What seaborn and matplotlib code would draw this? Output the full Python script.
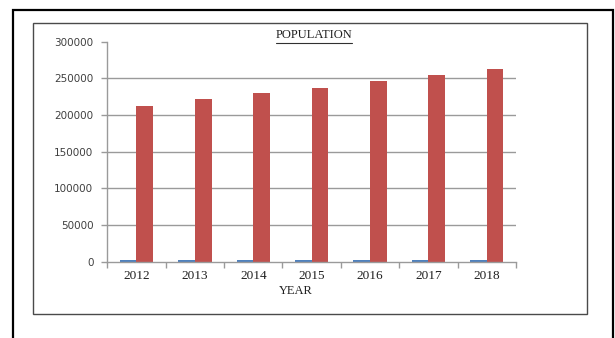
import matplotlib
matplotlib.use("Agg")
import matplotlib.pyplot as plt
from matplotlib.lines import Line2D
from matplotlib.patches import Rectangle
import numpy as np
import pandas as pd
import seaborn as sns

# Chart data
years = ["2012", "2013", "2014", "2015", "2016", "2017", "2018"]
year_values = [2012, 2013, 2014, 2015, 2016, 2017, 2018]
population = [212000, 221000, 230000, 237000, 246000, 255000, 263000]
y_ticks = [0, 50000, 100000, 150000, 200000, 250000, 300000]

df = pd.DataFrame({
    "year": years * 2,
    "series": ["YEAR"] * len(years) + ["POPULATION"] * len(years),
    "value": year_values + population,
})

sns.set_theme(style="white")
plt.rcParams["font.family"] = ["DejaVu Sans"]

W, H = 615, 338
fig = plt.figure(figsize=(W / 100, H / 100), dpi=100)
fig.patch.set_facecolor("white")

def fx(px):
    return px / W

def fy(py):
    return 1 - py / H

ax = fig.add_axes([fx(107.3), fy(261.5), fx(516) - fx(107.3), fy(41.5) - fy(261.5)])

sns.barplot(
    data=df, x="year", y="value", hue="series",
    palette=["#4F81BD", "#C0504D"], saturation=1,
    width=0.57, gap=0, linewidth=0, legend=False, ax=ax,
)

grid_grey = "#9a9a9a"
ax.set_ylim(0, 300000)
ax.set_xlim(-0.5, len(years) - 0.5)
ax.set_yticks(y_ticks)
ax.set_yticklabels([str(v) for v in y_ticks], fontsize=7.5, color="#404040")
ax.yaxis.grid(True, color=grid_grey, linewidth=1.0)
ax.set_axisbelow(True)
ax.get_ygridlines()[-1].set_visible(False)
ax.get_ygridlines()[0].set_visible(False)

for side in ["top", "right"]:
    ax.spines[side].set_visible(False)
for side in ["left", "bottom"]:
    ax.spines[side].set_color(grid_grey)
    ax.spines[side].set_linewidth(1.0)

ax.tick_params(axis="y", direction="out", length=4, width=1.0,
               color=grid_grey, pad=6, left=True)
ax.set_xticks(range(len(years)))
ax.set_xticklabels(years, fontsize=9.5, family="Liberation Serif", color="#202020")
ax.set_xticks(np.arange(-0.5, len(years), 1.0), minor=True)
ax.tick_params(axis="x", which="major", length=0, pad=6)
ax.tick_params(axis="x", which="minor", direction="out", length=4,
               width=1.0, color=grid_grey, bottom=True)

ax.set_xlabel("")
ax.set_ylabel("")

# Axis title and chart title
fig.text(fx(296), fy(291), "YEAR", ha="center", va="center",
         fontsize=9, family="Liberation Serif", color="#202020")
title = fig.text(fx(314), fy(35), "POPULATION", ha="center", va="center",
                 fontsize=9, family="Liberation Serif", color="#202020")
fig.canvas.draw()
bb = title.get_window_extent(fig.canvas.get_renderer())
uy = (bb.y0 - 1.5) / H
fig.add_artist(Line2D([bb.x0 / W, bb.x1 / W], [uy, uy], color="#303030",
                      linewidth=0.8, transform=fig.transFigure))

# Chart area frame
fig.add_artist(Rectangle((fx(33.3), fy(314)), fx(587.3) - fx(33.3), fy(22.7) - fy(314),
                         fill=False, edgecolor="#4a4a4a", linewidth=1.0,
                         transform=fig.transFigure))
# Outer page frame
fig.add_artist(Rectangle((fx(12.7), -0.2), fx(613) - fx(12.7), fy(10) + 0.2,
                         fill=False, edgecolor="black", linewidth=1.6,
                         transform=fig.transFigure, clip_on=False))

fig.savefig("out.png", dpi=100, facecolor="white")
